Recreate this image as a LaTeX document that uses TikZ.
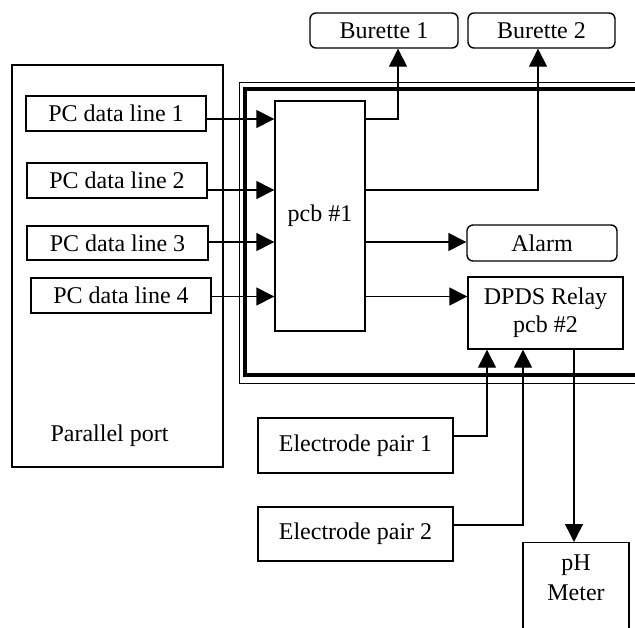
\documentclass[tikz,border=0pt]{standalone}
\usepackage{fontspec}
\setmainfont{Liberation Serif}
\usetikzlibrary{arrows.meta}

\begin{document}
\begin{tikzpicture}[x=0.5pt,y=-0.5pt,
    font=\fontsize{12}{14}\selectfont,
    box/.style={draw, line width=0.7pt, inner sep=0pt, align=center},
    rbox/.style={box, rounded corners=3pt},
    sig/.style={line width=0.7pt, -{Triangle[length=9pt,width=9pt]}}]
    \useasboundingbox (0,0) rectangle (635,627);
    \clip (0,0) rectangle (635,627);

    % PC side
    \node[box, minimum width=105.5pt, minimum height=201pt] (port) at (117.5,266) {};
    \node (portlbl) at (109.5,436) {Parallel port};
    \node[box, minimum width=90pt, minimum height=17.5pt] (pc1) at (116,113.5) {PC data line 1};
    \node[box, minimum width=90pt, minimum height=17.5pt] (pc2) at (117,180.5) {PC data line 2};
    \node[box, minimum width=90.5pt, minimum height=17pt] (pc3) at (117.5,243) {PC data line 3};
    \node[box, minimum width=90pt, minimum height=17.5pt] (pc4) at (121,295.5) {PC data line 4};

    % interface box
    \draw[line width=0.5pt] (239.7,82.3) rectangle (700,383.3);
    \draw[line width=2.2pt] (245,88.7) rectangle (694,375);
    \node[box, minimum width=45pt, minimum height=115pt] (pcb) at (320,216) {pcb \#1};
    \node[rbox, minimum width=75pt, minimum height=18pt] (alarm) at (542,243) {\raisebox{-2pt}{Alarm}};
    \node[box, minimum width=77.5pt, minimum height=36pt] (relay) at (545.5,313) {DPDS Relay\\pcb \#2};

    % outside
    \node[rbox, minimum width=74pt, minimum height=17.5pt] (bur1) at (384,30.5) {Burette 1};
    \node[rbox, minimum width=73.5pt, minimum height=17.5pt] (bur2) at (541.5,30.5) {Burette 2};
    \node[box, minimum width=97.5pt, minimum height=27.5pt] (el1) at (355.5,445.5) {Electrode pair 1};
    \node[box, minimum width=97.5pt, minimum height=27pt] (el2) at (355.5,534) {Electrode pair 2};
    \node[box, minimum width=53pt, minimum height=55pt, anchor=north] (ph) at (576,542) {};
    \node[align=center, font=\fontsize{12}{15}\selectfont] (phtxt) at (576,578) {pH\\Meter};

    \coordinate (y1) at (0,119);
    \coordinate (y2) at (0,190);
    \coordinate (y3) at (0,242);
    \coordinate (y4) at (0,296.5);
    \coordinate (b1) at (398,0);
    \coordinate (b2) at (538,0);
    \coordinate (e1) at (487,436);
    \coordinate (e2) at (523,525);
    \coordinate (m) at (574,0);

    \draw[sig] (pc1.east |- y1) -- (pcb.west |- y1);
    \draw[sig] (pc2.east |- y2) -- (pcb.west |- y2);
    \draw[sig] (pc3.east |- y3) -- (pcb.west |- y3);
    \draw[sig] (pc4.east |- y4) -- (pcb.west |- y4);

    \draw[sig] (pcb.east |- y1) -| (bur1.south -| b1);
    \draw[sig] (pcb.east |- y2) -| (bur2.south -| b2);
    \draw[sig] (pcb.east |- y3) -- (alarm.west |- y3);
    \draw[sig] (pcb.east |- y4) -- (relay.west |- y4);

    \draw[sig] (el1.east |- e1) -| (relay.south -| e1);
    \draw[sig] (el2.east |- e2) -| (relay.south -| e2);
    \draw[sig] (relay.south -| m) -- (ph.north -| m);
\end{tikzpicture}
\end{document}
